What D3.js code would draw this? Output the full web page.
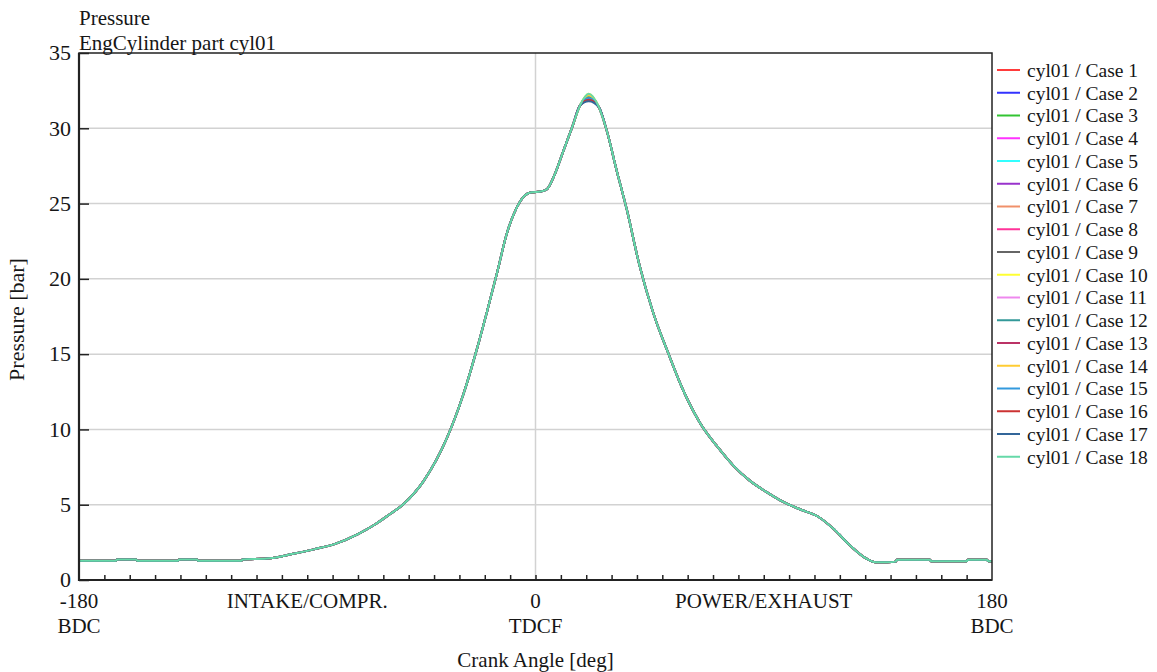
<!DOCTYPE html>
<html>
<head>
<meta charset="utf-8">
<script src="https://cdn.jsdelivr.net/npm/d3@7"></script>
<style>
  body { margin: 0; background: #fff; }
  svg { display: block; font-family: "Liberation Serif", "DejaVu Serif", serif; }
</style>
</head>
<body>
<svg id="chart"></svg>
<script>
const crankAngle = [-180, -165.5, -165, -157.5, -157, -141, -140.5, -133.5, -133, -116, -115.5, -106,
    -96, -87, -79, -70, -63, -58, -52, -44, -35, -28.5, -23, -19, -15, -11.5, -7.5, -5, -1.5,
    2, 4.5, 7.5, 11, 14.5, 17.5, 21, 25, 28, 32, 36, 41, 46.5, 52.5, 58.5, 65, 71.5, 78, 84.5,
    91, 97.5, 104.5, 111.5, 117.5, 124, 130.5, 134, 138.5, 142, 142.5, 155.5, 156, 170, 170.5,
    178, 178.5, 180];

// cylinder pressure [bar], shared by all cases (they overlap)
const pressure = [1.28, 1.28, 1.36, 1.36, 1.28, 1.28, 1.36, 1.36, 1.28, 1.28, 1.36, 1.42,
    1.72, 2.05, 2.4, 3.05, 3.72, 4.3, 5.05, 6.6, 9.4, 12.3, 15.4, 17.9, 20.5, 22.9, 24.7, 25.4, 25.75,
    25.8, 25.95, 26.9, 28.5, 30.1, 31.5, 32.1, 31.4, 29.9, 27.2, 24.6, 20.9, 17.7, 15.0, 12.5, 10.4,
    8.9, 7.6, 6.6, 5.85, 5.2, 4.68, 4.2, 3.4, 2.3, 1.42, 1.18, 1.18, 1.22, 1.34, 1.34, 1.24, 1.24,
    1.34, 1.34, 1.25, 1.25];

// the cases only differ visibly at the firing peak (21 deg)
const peakAngle = 21;
const peakPressure = [32.0, 31.9, 32.2, 32.1, 32.2, 32.0, 32.1, 32.0, 32.1, 32.3, 32.2, 32.1,
    31.9, 32.2, 32.0, 31.9, 31.8, 32.3];

const caseNames = d3.range(1, 19).map(function(i) { return 'cyl01 / Case ' + i; });
const caseColors = ['#ff3b3b', '#3232ff', '#33c433', '#ff33ff', '#33ffff', '#9933cc',
    '#f0906a', '#ff3399', '#666666', '#ffff33', '#ee88ee', '#339999', '#bb3366', '#ffcc33',
    '#3399dd', '#cc3333', '#336699', '#66d9a8'];

const yTicks = [0, 5, 10, 15, 20, 25, 30, 35];
const xTicks = d3.range(-180, 181, 10);
const xLabels = [
    {v: -180, top: '-180', bottom: 'BDC'},
    {v: -90, top: 'INTAKE/COMPR.', bottom: ''},
    {v: 0, top: '0', bottom: 'TDCF'},
    {v: 90, top: 'POWER/EXHAUST', bottom: ''},
    {v: 180, top: '180', bottom: 'BDC'}
];

const W = 1157, H = 672;
const plot = {left: 79, right: 992, top: 53, bottom: 580};
const ink = '#161616';

const svg = d3.select('#chart').attr('width', W).attr('height', H);

const x = d3.scaleLinear().domain([-180, 180]).range([plot.left, plot.right]);
const y = d3.scaleLinear().domain([0, 35]).range([plot.bottom, plot.top]);

// grid
svg.append('g')
    .selectAll('line')
    .data(yTicks.filter(function(d) { return d > 0 && d < 35; }))
    .enter().append('line')
    .attr('x1', plot.left).attr('x2', plot.right)
    .attr('y1', function(d) { return y(d); }).attr('y2', function(d) { return y(d); })
    .style('stroke', '#d2d2d2').style('stroke-width', 1.5);

svg.append('line')
    .attr('x1', x(0)).attr('x2', x(0))
    .attr('y1', plot.top).attr('y2', plot.bottom)
    .style('stroke', '#d2d2d2').style('stroke-width', 1.5);

// series
const line = d3.line()
    .x(function(d) { return x(d[0]); })
    .y(function(d) { return y(d[1]); })
    .curve(d3.curveMonotoneX);

const series = caseNames.map(function(name, k) {
    return {
        name: name,
        color: caseColors[k],
        data: crankAngle.map(function(a, i) {
            return [a, a === peakAngle ? peakPressure[k] : pressure[i]];
        })
    };
});

svg.append('g')
    .selectAll('path')
    .data(series)
    .enter().append('path')
    .attr('d', function(d) { return line(d.data); })
    .style('fill', 'none')
    .style('stroke', function(d) { return d.color; })
    .style('stroke-width', 2);

// frame
svg.append('rect')
    .attr('x', plot.left).attr('y', plot.top)
    .attr('width', plot.right - plot.left).attr('height', plot.bottom - plot.top)
    .style('fill', 'none').style('stroke', '#222').style('stroke-width', 1.5);
svg.append('path')
    .attr('d', 'M' + plot.left + ',' + plot.top + 'V' + plot.bottom + 'H' + plot.right)
    .style('fill', 'none').style('stroke', '#222').style('stroke-width', 2.2);

// y axis ticks (inward) and labels
const yAxis = svg.append('g').attr('transform', 'translate(' + plot.left + ',0)')
    .call(d3.axisRight(y).tickValues(yTicks).tickSize(10).tickFormat(''));
yAxis.select('.domain').remove();
yAxis.selectAll('line').style('stroke', '#222').style('stroke-width', 1.5);

svg.append('g')
    .selectAll('text')
    .data(yTicks)
    .enter().append('text')
    .attr('x', 71).attr('y', function(d) { return y(d); })
    .attr('dy', '0.33em')
    .attr('text-anchor', 'end')
    .style('font-size', '22px').style('fill', ink)
    .text(function(d) { return d; });

// x axis ticks (inward)
const xAxis = svg.append('g').attr('transform', 'translate(0,' + plot.bottom + ')')
    .call(d3.axisTop(x).tickValues(xTicks.filter(function(d) { return Math.abs(d) < 180; }))
        .tickSize(5).tickFormat(''));
xAxis.select('.domain').remove();
xAxis.selectAll('line').style('stroke', '#222').style('stroke-width', 1.5);

const xl = svg.append('g').selectAll('g').data(xLabels).enter().append('g');
xl.append('text')
    .attr('x', function(d) { return x(d.v); }).attr('y', 608)
    .attr('text-anchor', 'middle')
    .style('font-size', '21px').style('fill', ink)
    .text(function(d) { return d.top; });
xl.append('text')
    .attr('x', function(d) { return x(d.v); }).attr('y', 633)
    .attr('text-anchor', 'middle')
    .style('font-size', '21px').style('fill', ink)
    .text(function(d) { return d.bottom; });

svg.append('text')
    .attr('x', x(0)).attr('y', 667)
    .attr('text-anchor', 'middle')
    .style('font-size', '21px').style('fill', ink)
    .text('Crank Angle [deg]');

svg.append('text')
    .attr('transform', 'translate(24,' + ((plot.top + plot.bottom) / 2 + 3) + ') rotate(-90)')
    .attr('text-anchor', 'middle')
    .style('font-size', '22px').style('fill', ink)
    .text('Pressure [bar]');

// titles
svg.append('text').attr('x', plot.left).attr('y', 25)
    .style('font-size', '21px').style('fill', ink).text('Pressure');
svg.append('text').attr('x', plot.left).attr('y', 50)
    .style('font-size', '21px').style('fill', ink).text('EngCylinder part cyl01');

// legend
const legend = svg.append('g').attr('class', 'legend')
    .selectAll('g')
    .data(series)
    .enter().append('g')
    .attr('transform', function(d, i) { return 'translate(997,' + (70 + i * 22.75) + ')'; });
legend.append('line')
    .attr('x1', 0).attr('x2', 23)
    .style('stroke', function(d) { return d.color; })
    .style('stroke-width', 2);
legend.append('text')
    .attr('x', 30).attr('dy', '0.35em')
    .style('font-size', '19.5px').style('fill', ink)
    .text(function(d) { return d.name; });
</script>
</body>
</html>
